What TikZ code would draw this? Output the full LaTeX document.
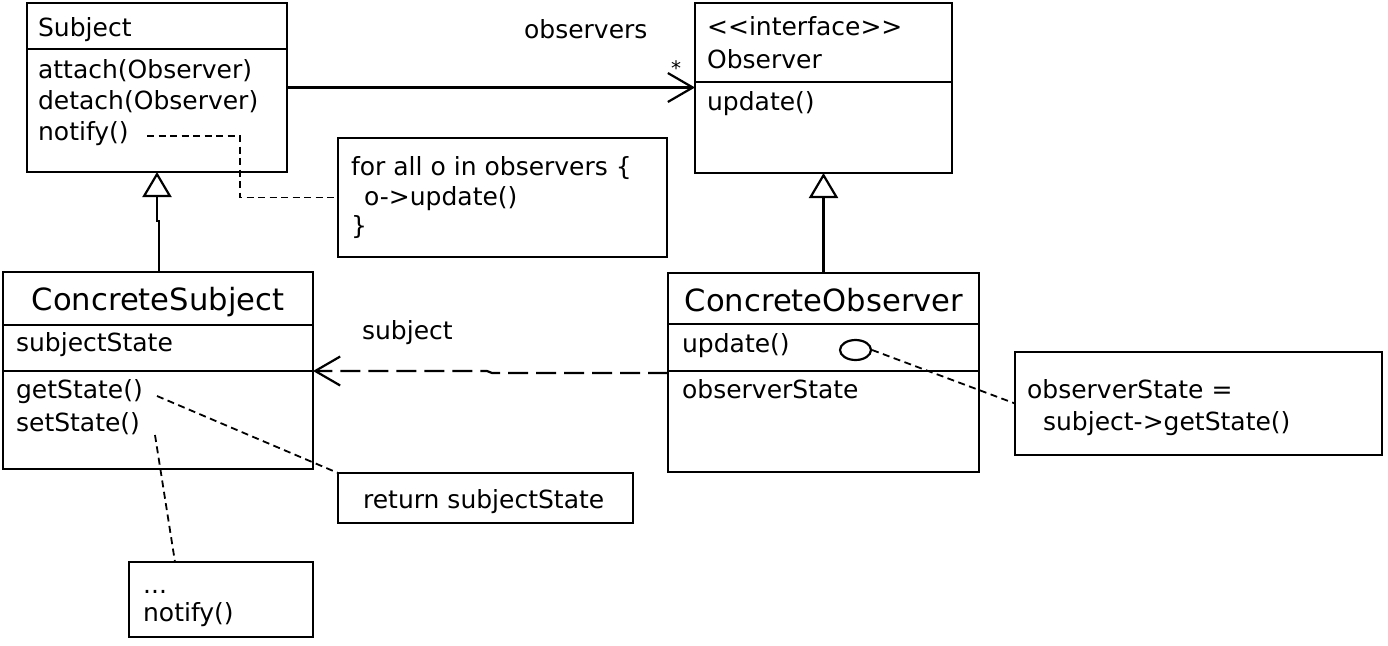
\documentclass[tikz,border=0pt]{standalone}
\usepackage{fontspec}
\setmainfont{DejaVu Sans}
\usetikzlibrary{arrows.meta,shapes.geometric}
\begin{document}
\begin{tikzpicture}[x=1pt,y=-1pt,
  line width=2.2pt,
  box/.style={draw, rectangle, anchor=north west, inner sep=0pt, outer sep=0pt},
  txt/.style={anchor=base west, inner sep=0pt, font=\fontsize{25}{32}\selectfont},
  head/.style={anchor=base, inner sep=0pt, font=\fontsize{30.6}{36}\selectfont},
  inherit/.style={-{Triangle[open,length=25pt,width=29pt]}},
  assoc/.style={-{Straight Barb[length=25pt,width=29pt]}},
  dep/.style={dash pattern=on 20pt off 8pt, -{Straight Barb[length=25pt,width=29pt]}},
  notelink/.style={line width=1.8pt, dash pattern=on 7pt off 4.5pt},
]
\useasboundingbox (0,0) rectangle (1388,645);

% class boxes
\node[box, minimum width=260pt, minimum height=169pt] (subj) at (27,3) {};
\node[box, minimum width=257pt, minimum height=170pt] (obs) at (695,3) {};
\node[box, minimum width=310pt, minimum height=197pt] (csubj) at (3,272) {};
\node[box, minimum width=311pt, minimum height=199pt] (cobs) at (668,273) {};

% compartment dividers
\draw (27,49) -- (287,49);
\draw (695,82) -- (952,82);
\draw (3,325) -- (313,325);
\draw (3,371) -- (313,371);
\draw (668,324) -- (979,324);
\draw (668,371) -- (979,371);

% notes
\node[box, minimum width=329pt, minimum height=119pt] (note1) at (338,138) {};
\node[box, minimum width=367pt, minimum height=103pt] (note2) at (1015,352) {};
\node[box, minimum width=295pt, minimum height=50pt] (note3) at (338,473) {};
\node[box, minimum width=184pt, minimum height=75pt] (note4) at (129,562) {};

% Subject
\node[txt] (t1) at (37,36) {Subject};
\node[txt] (t2) at (37,78) {attach(Observer)};
\node[txt] (t3) at (37,109) {detach(Observer)};
\node[txt] (t4) at (37,140) {notify()};

% Observer
\node[txt] (t5) at (706,35) {<{}<interface>{}>};
\node[txt] (t6) at (706,68) {Observer};
\node[txt] (t7) at (706,110) {update()};

% ConcreteSubject
\node[head] (t8) at (158,310) {ConcreteSubject};
\node[txt] (t9) at (15,351) {subjectState};
\node[txt] (t10) at (15,398) {getState()};
\node[txt] (t11) at (15,431) {setState()};

% ConcreteObserver
\node[head] (t12) at (824,311) {ConcreteObserver};
\node[txt] (t13) at (681,352) {update()};
\node[txt] (t14) at (681,398) {observerState};

% note texts
\node[txt] (t15) at (350,175) {for all o in observers \{};
\node[txt] (t16) at (363,205) {o->update()};
\node[txt] (t17) at (350,234) {\}};
\node[txt] (t18) at (1026,398) {observerState =};
\node[txt] (t19) at (1042,430) {subject->getState()};
\node[txt] (t20) at (362,508) {return subjectState};
\node[txt] (t21) at (142,593) {...};
\node[txt] (t22) at (142,621) {notify()};

% association labels
\node[txt] (lobs) at (523,38) {observers};
\node[txt] (lsub) at (361,339) {subject};
\node[inner sep=0pt, font=\fontsize{20}{24}\selectfont] (star) at (676,68) {*};

% generalisations
\coordinate (j1) at (159,221);
\coordinate (j2) at (157,221);
\draw[inherit] (csubj.north -| j1) -- (j1) -- (j2) -- (subj.south -| j2);
\draw[inherit] (cobs.north) -- (cobs.north |- obs.south);

% association Subject -> Observer
\draw[assoc] (subj.east) -- (subj.east -| obs.west);

% dependency ConcreteObserver -> ConcreteSubject
\coordinate (k1) at (492,373);
\coordinate (k2) at (487,371);
\draw[dep] (cobs.west |- k1) -- (k1) -- (k2) -- (k2 -| csubj.east);

% note links
\coordinate (n1s) at (147,136);
\coordinate (n1b) at (240,136);
\draw[notelink] (n1s) -- (n1b) |- (note1.west);

\node[draw, ellipse, line width=2.2pt, minimum width=31pt, minimum height=20pt, inner sep=0pt] (oval) at (855.5,350) {};
\draw[notelink] (oval.east) -- (note2.west);

\coordinate (g1) at (157,396);
\draw[notelink] (g1) -- (note3.north west);

\coordinate (s1) at (155,435);
\coordinate (s2) at (175,562);
\draw[notelink] (s1) -- (s2 |- note4.north);
\end{tikzpicture}
\end{document}
